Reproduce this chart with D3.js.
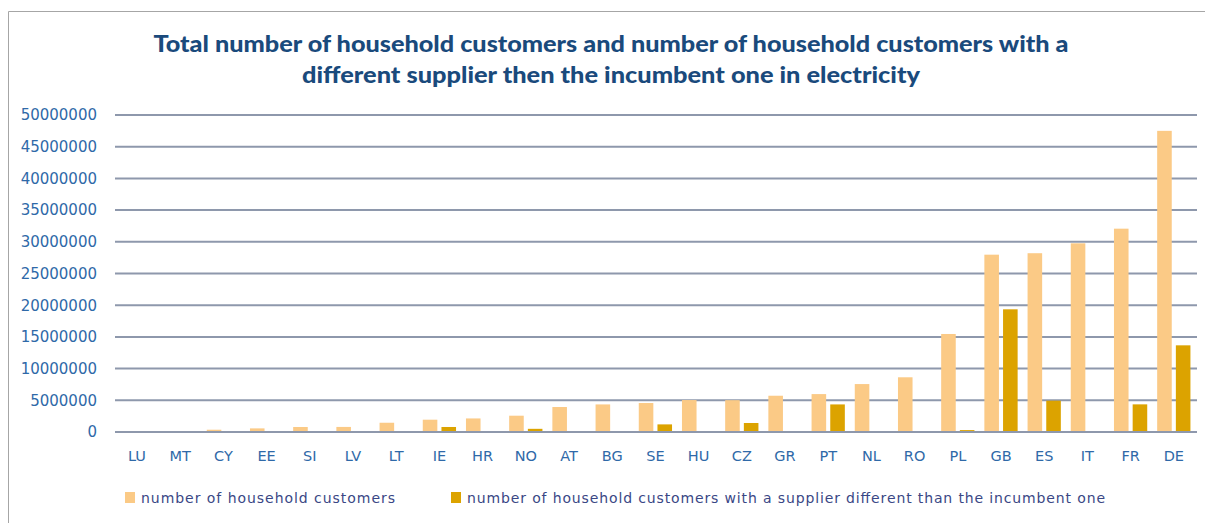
<!DOCTYPE html>
<html>
<head>
<meta charset="utf-8">
<script src="https://cdn.jsdelivr.net/npm/d3@7"></script>
<style>
  html, body { margin: 0; padding: 0; background: #fff; }
  svg { display: block; }
</style>
</head>
<body>
<svg id="chart" width="1205" height="523"></svg>
<script>
// Country codes, sorted by total household customers
const countries = ["LU","MT","CY","EE","SI","LV","LT","IE","HR","NO","AT","BG","SE","HU","CZ","GR","PT","NL","RO","PL","GB","ES","IT","FR","DE"];

// Total number of household customers
const householdCustomers = [100000,100000,360000,570000,790000,800000,1460000,1940000,2140000,2570000,3940000,4350000,4570000,5040000,5020000,5720000,5980000,7560000,8630000,15460000,27970000,28200000,29760000,32070000,47500000];

// Household customers with a supplier different than the incumbent one
const switchedCustomers = [0,0,0,0,0,0,0,790000,0,500000,0,0,1200000,0,1420000,0,4350000,0,0,300000,19350000,4940000,0,4360000,13670000];

const yTicks = [0,5000000,10000000,15000000,20000000,25000000,30000000,35000000,40000000,45000000,50000000];

const seriesNames = ["number of household customers","number of household customers with a supplier different than the incumbent one"];
const seriesColors = ["#FBCA86","#DCA300"];

const titleLines = ["Total number of household customers and number of household customers with a","different supplier then the incumbent one in electricity"];

const svg = d3.select("#chart");

// outer frame
svg.append("path")
  .attr("d", "M8.5,523 L8.5,11.5 L1205,11.5")
  .attr("fill", "none")
  .attr("stroke", "#A6A6A6")
  .attr("stroke-width", 1);

// title
const titleG = svg.append("g");
titleG.selectAll("text").data(titleLines).join("text")
  .attr("x", 611)
  .attr("y", (d, i) => 52 + i * 31)
  .attr("text-anchor", "middle")
  .attr("font-family", "Lato, 'Open Sans', sans-serif")
  .attr("font-weight", 900)
  .attr("font-size", 22)
  .attr("fill", "#1A4A7C")
  .attr("textLength", (d, i) => i === 0 ? 915 : 618)
  .attr("lengthAdjust", "spacingAndGlyphs")
  .text(d => d);

const x0 = d3.scaleBand()
  .domain(countries)
  .range([115.4, 1195.4])
  .paddingInner(0.23)
  .paddingOuter(0.115);

const x1 = d3.scaleBand()
  .domain([0, 1])
  .range([0, x0.bandwidth()])
  .paddingInner(0.22);

const y = d3.scaleLinear()
  .domain([0, 50000000])
  .range([432, 115]);

// gridlines
svg.append("g")
  .selectAll("line").data(yTicks).join("line")
  .attr("x1", 115)
  .attr("x2", 1197)
  .attr("y1", d => y(d))
  .attr("y2", d => y(d))
  .attr("stroke", "#8E98AC")
  .attr("stroke-width", 2);

// y axis labels
const yAxis = svg.append("g")
  .attr("transform", "translate(115,0)")
  .call(d3.axisLeft(y).tickValues(yTicks).tickFormat(d3.format("d")).tickSize(0).tickPadding(18));
yAxis.select(".domain").remove();
yAxis.selectAll("text")
  .attr("font-family", "'DejaVu Sans', Verdana, sans-serif")
  .attr("font-size", 15)
  .attr("fill", "#2F69A8");

// x axis labels
const xAxis = svg.append("g")
  .attr("transform", "translate(0,432)")
  .call(d3.axisBottom(x0).tickSize(0).tickPadding(19));
xAxis.select(".domain").remove();
xAxis.selectAll("text")
  .attr("font-family", "'DejaVu Sans', Verdana, sans-serif")
  .attr("font-size", 14.5)
  .attr("fill", "#2F69A8");

// bars
const series = [householdCustomers, switchedCustomers];
const groups = svg.append("g")
  .selectAll("g").data(countries).join("g")
  .attr("transform", d => `translate(${x0(d)},0)`);

groups.selectAll("rect")
  .data((c, i) => series.map((s, k) => ({ k, v: s[i] })).filter(d => d.v > 0))
  .join("rect")
  .attr("x", d => x1(d.k))
  .attr("width", x1.bandwidth())
  .attr("y", d => y(d.v))
  .attr("height", d => y(0) - y(d.v))
  .attr("fill", d => seriesColors[d.k]);

// zero line drawn over bar bases
svg.append("line")
  .attr("x1", 115).attr("x2", 1197)
  .attr("y1", y(0)).attr("y2", y(0))
  .attr("stroke", "#8E98AC").attr("stroke-width", 2);

// legend
const legendX = [125, 451];
const legendLen = [254, 638];
const legend = svg.append("g");
seriesNames.forEach((name, k) => {
  legend.append("rect")
    .attr("x", legendX[k]).attr("y", 492)
    .attr("width", 10).attr("height", 11)
    .attr("fill", seriesColors[k]);
  legend.append("text")
    .attr("x", legendX[k] + 16).attr("y", 503)
    .attr("font-family", "'DejaVu Sans', Verdana, sans-serif")
    .attr("font-size", 14)
    .attr("fill", "#3A4785")
    .attr("textLength", legendLen[k])
    .attr("lengthAdjust", "spacing")
    .text(name);
});
</script>
</body>
</html>
